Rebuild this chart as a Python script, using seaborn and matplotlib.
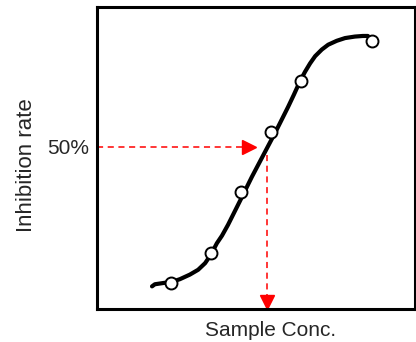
import matplotlib
matplotlib.use("Agg")
import matplotlib.pyplot as plt
import seaborn as sns
import numpy as np

# measured sample points (x: concentration, y: inhibition, both in % of axis range)
sample_conc = [23.3, 35.8, 45.3, 54.6, 64.1, 86.4]
sample_inhib = [8.6, 18.5, 38.7, 58.7, 75.5, 88.8]

# fitted dose-response curve
curve_conc = [17.3, 18.2, 21.4, 23.6, 26.1, 29.2, 31.8, 34.0, 35.8, 37.7, 39.3,
              41.2, 45.0, 48.7, 52.5, 56.3, 60.1, 61.9, 63.8, 65.4, 67.0, 68.6,
              70.7, 72.7, 75.4, 78.0, 81.1, 83.6, 85.2]
curve_inhib = [7.4, 8.1, 8.6, 8.9, 9.8, 11.3, 12.9, 15.1, 17.9, 21.7, 24.2,
               27.8, 35.8, 43.7, 51.3, 58.9, 66.9, 70.9, 75.3, 78.5, 81.3, 83.7,
               85.9, 87.5, 88.8, 89.7, 90.2, 90.4, 90.4]

# 50% guide lines
half_level = 53.6
half_arrow_end = 50.0
ic50_conc = 53.4
ic50_start = 51.0

ytick_labels = ["50%"]

sns.set_style("white")
plt.rcParams["font.family"] = ["Liberation Sans", "DejaVu Sans"]

fig = plt.figure(figsize=(4.16, 3.42), dpi=100)
ax = fig.add_axes([97 / 416, 33.3 / 342, 318 / 416, 301.7 / 342])

# red dashed guides with arrow heads
ax.plot([0, half_arrow_end - 3.5], [half_level, half_level], color="red",
        lw=1.1, ls=(0, (4, 3)), zorder=1)
ax.plot([half_arrow_end - 2.05], [half_level], marker=">", color="red",
        markersize=9.4, ls="none", zorder=1)
ax.plot([ic50_conc, ic50_conc], [ic50_start, 4.0], color="red",
        lw=1.1, ls=(0, (4, 3)), zorder=1)
ax.plot([ic50_conc], [2.15], marker="v", color="red",
        markersize=9.4, ls="none", zorder=1, clip_on=False)

sns.lineplot(x=curve_conc, y=curve_inhib, sort=False, color="black",
             lw=3.0, ax=ax, zorder=2, solid_joinstyle="round",
             solid_capstyle="round")
ax.plot(sample_conc, sample_inhib, ls="none", marker="o", markersize=8.6,
        markerfacecolor="white", markeredgecolor="black",
        markeredgewidth=1.4, zorder=3)

ax.set_xlim(0, 100)
ax.set_ylim(0, 100)
ax.set_xticks([])
ax.set_yticks([half_level])
ax.set_yticklabels(ytick_labels, fontsize=15)
ax.tick_params(axis="y", length=0, pad=6)

for s in ax.spines.values():
    s.set_linewidth(2.2)
    s.set_color("black")

ax.set_xlabel("Sample Conc.", fontsize=15)
ax.xaxis.set_label_coords(0.547, -0.041)
ax.set_ylabel("Inhibition rate", fontsize=16)
ax.yaxis.set_label_coords(-0.19, 0.476)

fig.savefig("out.png", dpi=100)
